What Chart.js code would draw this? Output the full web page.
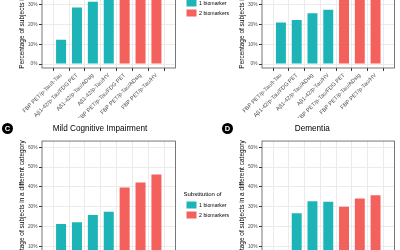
<!DOCTYPE html>
<html>
<head>
<meta charset="UTF-8" />
<title>Substitution of biomarkers</title>
<script src="https://cdn.jsdelivr.net/npm/chart.js@4.4.1/dist/chart.umd.min.js"></script>
<style>
  body { margin: 0; width: 400px; height: 250px; overflow: hidden; background: #fff; position: relative; }
  .panel { position: absolute; }
  .tag { position: absolute; width: 11px; height: 11px; border-radius: 50%; background: #000; color: #fff;
         font: bold 7.5px "Liberation Sans", Arial, sans-serif; text-align: center; line-height: 11px; }
</style>
</head>
<body>
<div class="panel" style="left:0px; top:-80px; width:235px; height:198px;"><canvas id="chartA"></canvas></div>
<div class="panel" style="left:200px; top:-80px; width:200px; height:198px;"><canvas id="chartB"></canvas></div>
<div class="panel" style="left:-35px; top:115px; width:270px; height:205px;"><canvas id="chartC"></canvas></div>
<div class="panel" style="left:200px; top:115px; width:200px; height:205px;"><canvas id="chartD"></canvas></div>
<div class="tag" style="left:2px; top:123px;">C</div>
<div class="tag" style="left:222px; top:123px;">D</div>

<script>
// categories (biomarker combinations) and how many biomarkers were substituted
const categories = [
  "FBP PET/p-Tau/t-Tau",
  "Aβ1-42/p-Tau/FDG PET",
  "Aβ1-42/p-Tau/ADsig",
  "Aβ1-42/p-Tau/HV",
  "FBP PET/p-Tau/FDG PET",
  "FBP PET/p-Tau/ADsig",
  "FBP PET/p-Tau/HV"
];
const substituted = [1, 1, 1, 1, 2, 2, 2];
const seriesNames = ["1 biomarker", "2 biomarkers"];
const seriesColors = ["#1DB4B7", "#F4605B"];

// percentage of subjects in a different category, per panel
const valuesA = [12.3, 28.6, 31.5, 34.5, 40.5, 43.0, 46.5];
const valuesB = [21.0, 22.2, 25.7, 27.5, 39.6, 42.2, 46.3];
const valuesC = [21.2, 22.2, 25.8, 27.5, 39.7, 42.2, 46.3];
const valuesD = [null, 26.7, 32.8, 32.5, 30.0, 34.2, 35.8];

const titleC = "Mild Cognitive Impairment";
const titleD = "Dementia";
const yTicks = [0, 10, 20, 30, 40, 50, 60];
const yTitle = "Percentage of subjects in a different category";
const legendTitle = "Substitution of";

const FONT = "'Liberation Sans', Arial, sans-serif";

// draws the full panel frame like theme_bw
const panelBorder = {
  id: 'panelBorder',
  afterDraw(chart) {
    const a = chart.chartArea, ctx = chart.ctx;
    ctx.save();
    ctx.strokeStyle = '#555';
    ctx.lineWidth = 0.8;
    ctx.strokeRect(a.left, a.top, a.right - a.left, a.bottom - a.top);
    ctx.restore();
  }
};

function makePanel(id, values, opt) {
  const datasets = seriesNames.map((name, s) => ({
    label: name,
    backgroundColor: seriesColors[s],
    borderWidth: 0,
    grouped: false,
    barPercentage: 0.63,
    categoryPercentage: 1,
    data: values
      .map((v, i) => (substituted[i] === s + 1 && v !== null) ? { x: i, y: v } : null)
      .filter(p => p !== null)
  }));

  const scales = {
    x: {
      type: 'linear',
      min: -0.6,
      max: 6.6,
      afterBuildTicks: s => { s.ticks = categories.map((c, i) => ({ value: i })); },
      afterFit: s => { s.height = 50; },
      grid: { color: '#ebebeb', lineWidth: 1, tickLength: 3, tickColor: '#333' },
      border: { display: false },
      ticks: {
        autoSkip: false, minRotation: 45, maxRotation: 45, padding: 1,
        color: '#4d4d4d', font: { size: 5.6, family: FONT },
        callback: v => categories[v]
      }
    },
    y: {
      type: 'linear',
      min: -2,
      max: 63.2,
      afterBuildTicks: s => { s.ticks = yTicks.map(v => ({ value: v })); },
      afterFit: s => { s.width = opt.yWidth; },
      grid: { color: '#ebebeb', lineWidth: 1, tickLength: 3, tickColor: '#333' },
      border: { display: false },
      ticks: { padding: 1.5, color: '#4d4d4d', font: { size: 4.8, family: FONT }, callback: v => v + '%' },
      title: { display: true, text: yTitle, color: '#000', font: { size: 6.5, family: FONT },
               padding: { top: opt.yTitlePad, bottom: 0 } }
    }
  };
  if (opt.legend) {
    // empty axis only to leave a small gap before the legend
    scales.gap = {
      type: 'linear', position: 'right', display: true,
      grid: { display: false }, border: { display: false }, ticks: { display: false },
      afterFit: s => { s.width = 8; }
    };
  }

  new Chart(document.getElementById(id), {
    type: 'bar',
    data: { datasets: datasets },
    options: {
      responsive: true,
      maintainAspectRatio: false,
      animation: false,
      devicePixelRatio: 1,
      layout: { padding: opt.padding },
      scales: scales,
      plugins: {
        tooltip: { enabled: false },
        title: {
          display: !!opt.title,
          text: opt.title || '',
          color: '#000',
          font: { size: 8.2, family: FONT, weight: 'normal' },
          padding: { top: 7, bottom: 7.2 }
        },
        legend: {
          display: !!opt.legend,
          position: 'right',
          fullSize: false,
          maxWidth: 51.5,
          title: { display: true, text: legendTitle, position: 'start', color: '#000',
                   font: { size: 6, family: FONT }, padding: { top: 2, bottom: 0 } },
          labels: { boxWidth: 10, boxHeight: 7, padding: 3, color: '#000', font: { size: 5.2, family: FONT } }
        }
      }
    },
    plugins: [panelBorder]
  });
}

makePanel('chartA', valuesA, { legend: true, yWidth: 28, yTitlePad: 4,
  padding: { left: 14, top: 19, right: 0, bottom: 0 } });
makePanel('chartB', valuesB, { legend: false, yWidth: 28, yTitlePad: 4,
  padding: { left: 34, top: 19, right: 5.5, bottom: 0 } });
// C starts left of the window so its title centres over the left half
makePanel('chartC', valuesC, { legend: true, title: titleC, yWidth: 77, yTitlePad: 53.1,
  padding: { left: 0, top: 2, right: 0, bottom: 0 } });
makePanel('chartD', valuesD, { legend: false, title: titleD, yWidth: 32, yTitlePad: 8.1,
  padding: { left: 30, top: 2, right: 5.5, bottom: 0 } });
</script>
</body>
</html>
